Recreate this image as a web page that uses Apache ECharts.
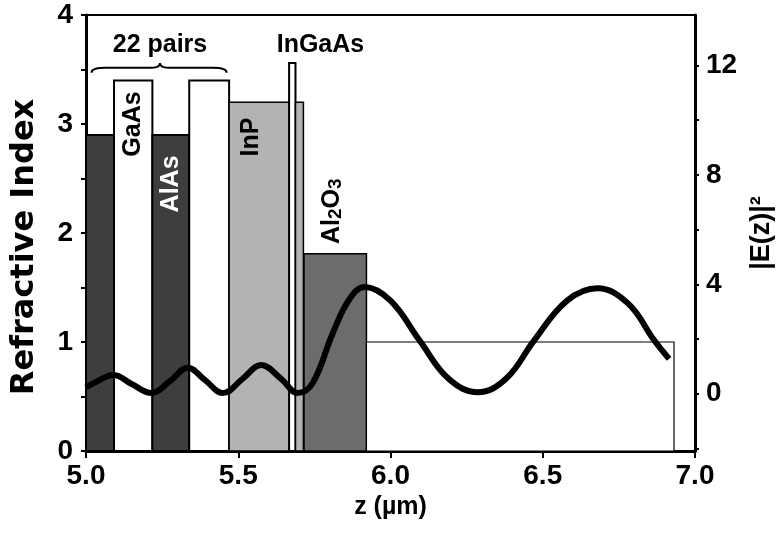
<!DOCTYPE html>
<html>
<head>
<meta charset="utf-8">
<script src="https://cdn.jsdelivr.net/npm/echarts@6/dist/echarts.min.js"></script>
<style>
html, body { margin: 0; padding: 0; background: #fff; }
#chart { width: 784px; height: 546px; }
</style>
</head>
<body>
<div id="chart"></div>
<script>
// layer stack: z range (µm) and refractive index
var layerName  = ['AlAs', 'GaAs', 'AlAs', 'GaAs', 'InP', 'InGaAs', 'InP', 'Al2O3', 'Air'];
var layerStart = [5.000, 5.092, 5.218, 5.339, 5.470, 5.667, 5.688, 5.716, 5.921];
var layerEnd   = [5.092, 5.218, 5.339, 5.470, 5.667, 5.688, 5.714, 5.921, 6.931];
var layerIndex = [2.9, 3.4, 2.9, 3.4, 3.2, 3.56, 3.2, 1.81, 1.0];

// text written inside / above some layers
var layerLabel = ['', 'GaAs', 'AlAs', '', 'InP', '', '', 'Al2O3', ''];
var labelZ     = [0, 5.155, 5.279, 0, 5.543, 0, 0, 5.81, 0];
var labelN     = [0, 3.0, 2.45, 0, 2.88, 0, 0, 2.2, 0];

// |E(z)|^2
var fieldZ = [5.000, 5.045, 5.090, 5.150, 5.215, 5.275, 5.335, 5.390, 5.450, 5.515, 5.575, 5.640, 5.695,
              5.745, 5.810, 5.865, 5.915, 6.000, 6.095, 6.190, 6.287, 6.380, 6.472, 6.580, 6.680, 6.780, 6.866, 6.915];
var fieldE = [0.22, 0.50, 0.68, 0.35, 0.02, 0.45, 0.95, 0.50, 0.02, 0.55, 1.05, 0.55, 0.02,
              0.40, 2.20, 3.45, 3.90, 3.40, 1.95, 0.55, 0.05, 0.55, 1.95, 3.40, 3.85, 3.30, 1.95, 1.27];

// annotations above the stack
var braceZ = [5.018, 5.243, 5.462];   // brace left, cusp, right
var braceN = [3.47, 3.515, 3.56];     // ends, bar, cusp
var noteText = ['22 pairs', 'InGaAs'];
var noteZ    = [5.243, 5.77];
var noteN    = [3.72, 3.72];

var FONT = '"Liberation Sans", Arial, sans-serif';
var materialStyle = {
  AlAs:   { fill: '#3e3e3e', border: 2,   text: '#fff' },
  GaAs:   { fill: '#ffffff', border: 2,   text: '#000' },
  InP:    { fill: '#b3b3b3', border: 1.5, text: '#000' },
  InGaAs: { fill: '#ffffff', border: 2,   text: '#000' },
  Al2O3:  { fill: '#6c6c6c', border: 1.5, text: '#000' },
  Air:    { fill: '#ffffff', border: 1.2, text: '#000' }
};

var layerData = layerStart.map(function (s, i) { return [s, layerEnd[i], layerIndex[i]]; });
var fieldData = fieldZ.map(function (z, i) { return [z, fieldE[i]]; });
var noteData  = noteText.map(function (t, i) { return [noteZ[i], noteN[i]]; });

var chart = echarts.init(document.getElementById('chart'));

var axisText = { color: '#000', fontSize: 28, fontWeight: 'bold', fontFamily: FONT };

function renderLayer(params, api) {
  var i = params.dataIndex;
  var p0 = api.coord([api.value(0), api.value(2)]);
  var p1 = api.coord([api.value(1), 0]);
  var st = materialStyle[layerName[i]];
  var kids = [{
    type: 'rect',
    shape: { x: p0[0], y: p0[1], width: p1[0] - p0[0], height: p1[1] - p0[1] },
    style: { fill: st.fill, stroke: '#000', lineWidth: st.border }
  }];
  if (layerLabel[i]) {
    var c = api.coord([labelZ[i], labelN[i]]);
    var txt = layerLabel[i] === 'Al2O3' ? '{m|Al}{s|2}{m|O}{s|3}' : layerLabel[i];
    kids.push({
      type: 'text', x: c[0], y: c[1], rotation: Math.PI / 2,
      style: {
        text: txt, fill: st.text, align: 'center', verticalAlign: 'middle',
        fontSize: 25, fontWeight: 'bold', fontFamily: FONT,
        rich: {
          m: { fontSize: 25, fontWeight: 'bold', fontFamily: FONT, fill: st.text, lineHeight: 26, verticalAlign: 'top' },
          s: { fontSize: 19, fontWeight: 'bold', fontFamily: FONT, fill: st.text, lineHeight: 18, padding: [12, 0, 0, 0], verticalAlign: 'bottom' }
        }
      }
    });
  }
  return { type: 'group', children: kids };
}

function renderNote(params, api) {
  var i = params.dataIndex;
  var c = api.coord([api.value(0), api.value(1)]);
  var kids = [{
    type: 'text', x: c[0], y: c[1],
    style: { text: noteText[i], fill: '#000', align: 'center', verticalAlign: 'middle', fontSize: 25, fontWeight: 'bold', fontFamily: FONT }
  }];
  if (i === 0) {
    var xl = api.coord([braceZ[0], 0])[0], xm = api.coord([braceZ[1], 0])[0], xr = api.coord([braceZ[2], 0])[0];
    var yEnd = api.coord([0, braceN[0]])[1], yH = api.coord([0, braceN[1]])[1], yCusp = api.coord([0, braceN[2]])[1];
    var d = 'M' + xl + ',' + yEnd + ' Q' + xl + ',' + yH + ' ' + (xl + 14) + ',' + yH +
      ' L' + (xm - 10) + ',' + yH + ' Q' + xm + ',' + yH + ' ' + xm + ',' + yCusp +
      ' Q' + xm + ',' + yH + ' ' + (xm + 10) + ',' + yH +
      ' L' + (xr - 14) + ',' + yH + ' Q' + xr + ',' + yH + ' ' + xr + ',' + yEnd;
    kids.push({ type: 'path', shape: { pathData: d }, style: { fill: null, stroke: '#000', lineWidth: 2 } });
  }
  return { type: 'group', children: kids };
}

var option = {
  animation: false,
  grid: { left: 86, right: 89, top: 15, bottom: 95, outerBoundsMode: 'none', show: true, borderColor: '#000', borderWidth: 2 },
  xAxis: {
    type: 'value', min: 5, max: 7, interval: 0.5,
    name: 'z (µm)', nameLocation: 'middle', nameGap: 42,
    nameTextStyle: { color: '#000', fontSize: 25, fontWeight: 'bold', fontFamily: FONT },
    axisLine: { lineStyle: { color: '#000', width: 3 } },
    axisTick: { length: 7, lineStyle: { color: '#000', width: 2 } },
    axisLabel: Object.assign({ margin: 11, formatter: function (v) { return v.toFixed(1); } }, axisText),
    splitLine: { show: false }
  },
  yAxis: [{
    type: 'value', min: 0, max: 4, interval: 1,
    name: 'Refractive Index', nameLocation: 'middle', nameGap: 45, nameRotate: 90,
    nameTextStyle: { color: '#000', fontSize: 32, fontWeight: 'bold', fontFamily: '"DejaVu Sans", sans-serif', padding: [0, 28, 0, 0] },
    axisLine: { lineStyle: { color: '#000', width: 3 } },
    axisTick: { length: 5, lineStyle: { color: '#000', width: 2 } },
    minorTick: { show: true, splitNumber: 2, length: 5, lineStyle: { color: '#000', width: 2 } },
    axisLabel: Object.assign({ margin: 13 }, axisText),
    splitLine: { show: false }, minorSplitLine: { show: false }
  }, {
    type: 'value', position: 'right', min: -2.1, max: 13.85,
    name: '|E(z)|²', nameLocation: 'middle', nameGap: 52, nameRotate: 90,
    nameTextStyle: { color: '#000', fontSize: 27, fontWeight: 'bold', fontFamily: FONT },
    axisLine: { lineStyle: { color: '#000', width: 3 } },
    axisTick: { length: 4, customValues: [-2, 0, 2, 4, 6, 8, 10, 12], lineStyle: { color: '#000', width: 2 } },
    axisLabel: Object.assign({ margin: 11, customValues: [0, 4, 8, 12] }, axisText),
    splitLine: { show: false }
  }],
  series: [{
    type: 'custom',
    xAxisIndex: 0, yAxisIndex: 0,
    encode: { x: [0, 1], y: 2 },
    data: layerData,
    renderItem: renderLayer,
    z: 1
  }, {
    type: 'line',
    xAxisIndex: 0, yAxisIndex: 1,
    data: fieldData,
    smooth: 0.4,
    showSymbol: false,
    lineStyle: { color: '#000', width: 6 },
    z: 3
  }, {
    type: 'custom',
    xAxisIndex: 0, yAxisIndex: 0,
    encode: { x: 0, y: 1 },
    data: noteData,
    renderItem: renderNote,
    clip: false,
    z: 4
  }]
};

chart.setOption(option);
</script>
</body>
</html>
